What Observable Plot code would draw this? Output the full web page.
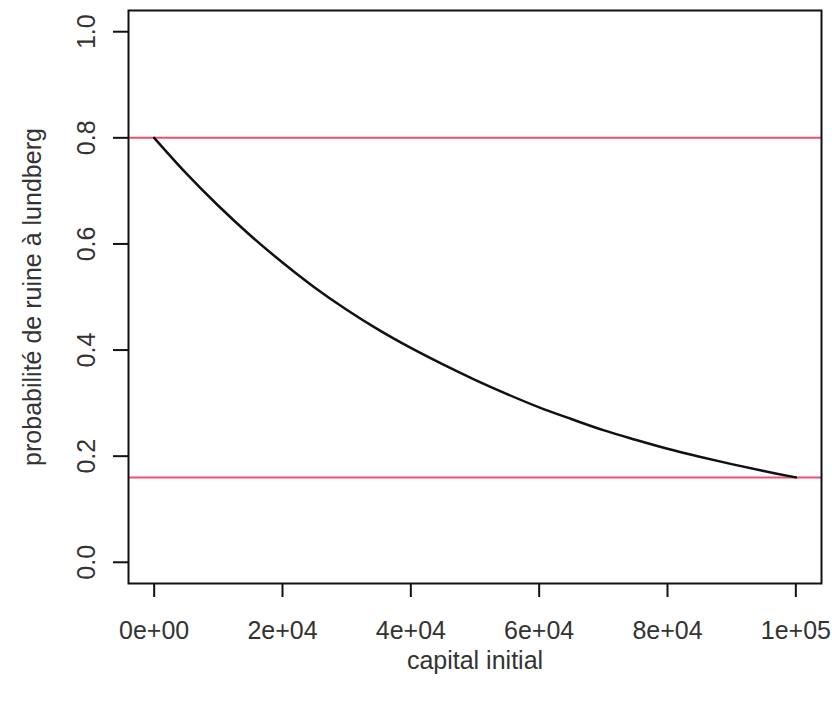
<!DOCTYPE html>
<html>
<head>
<meta charset="utf-8">
<script src="https://cdn.jsdelivr.net/npm/d3@7"></script>
<script src="https://cdn.jsdelivr.net/npm/@observablehq/plot@0.6"></script>
<style>
  html, body { margin: 0; padding: 0; background: #fff; }
</style>
</head>
<body>
<div id="chart"></div>
<script>
const xTicks = [0, 20000, 40000, 60000, 80000, 100000];
const xTickLabels = ["0e+00", "2e+04", "4e+04", "6e+04", "8e+04", "1e+05"];
const yTicks = [0, 0.2, 0.4, 0.6, 0.8, 1.0];
const yTickLabels = ["0.0", "0.2", "0.4", "0.6", "0.8", "1.0"];
const capital = [0, 5000, 10000, 15000, 20000, 25000, 30000, 35000, 40000, 45000, 50000,
                 55000, 60000, 65000, 70000, 75000, 80000, 85000, 90000, 95000, 100000];
const ruine = [0.800, 0.733, 0.672, 0.616, 0.565, 0.518, 0.476, 0.438, 0.404, 0.373, 0.344,
               0.317, 0.292, 0.270, 0.249, 0.231, 0.214, 0.199, 0.185, 0.172, 0.160];
const bornes = [0.8, 0.16];
const xLabel = "capital initial";
const yLabel = "probabilité de ruine à lundberg";

const data = capital.map((c, i) => ({capital: c, ruine: ruine[i]}));
const font = "'Liberation Sans', Arial, sans-serif";
const fs = 25;

const chart = Plot.plot({
  width: 832,
  height: 701,
  marginLeft: 128,
  marginRight: 11,
  marginTop: 10,
  marginBottom: 118,
  x: {domain: [-4000, 104000]},
  y: {domain: [-0.04, 1.04]},
  style: {fontFamily: font, fontSize: fs + "px", color: "#333", background: "white", overflow: "visible"},
  marks: [
    Plot.ruleY(bornes, {stroke: "#f0506e", strokeWidth: 2}),
    Plot.line(data, {x: "capital", y: "ruine", stroke: "#111", strokeWidth: 2.5, curve: "catmull-rom"}),
    Plot.frame({stroke: "#111", strokeWidth: 2}),
    Plot.axisX({ticks: xTicks, tickSize: 14, tickPadding: 24, fontSize: fs, fill: "#333", stroke: "#111", strokeWidth: 2,
                tickFormat: d => xTickLabels[xTicks.indexOf(d)], label: null}),
    Plot.axisY({ticks: yTicks, tickSize: 15, fontSize: fs, stroke: "#111", strokeWidth: 2,
                tickFormat: () => "", label: null}),
    Plot.text(yTicks, {y: d => d, text: d => yTickLabels[yTicks.indexOf(d)], frameAnchor: "left", dx: -42,
                       rotate: -90, fontSize: fs, fill: "#333", textAnchor: "middle", lineAnchor: "middle"}),
    Plot.text([xLabel], {text: d => d, frameAnchor: "bottom", dy: 77, fontSize: fs, fill: "#333", lineAnchor: "middle"}),
    Plot.text([yLabel], {text: d => d, frameAnchor: "left", dx: -96, rotate: -90, fontSize: fs, fill: "#333",
                         textAnchor: "middle", lineAnchor: "middle"})
  ]
});
document.getElementById("chart").appendChild(chart);
</script>
</body>
</html>
